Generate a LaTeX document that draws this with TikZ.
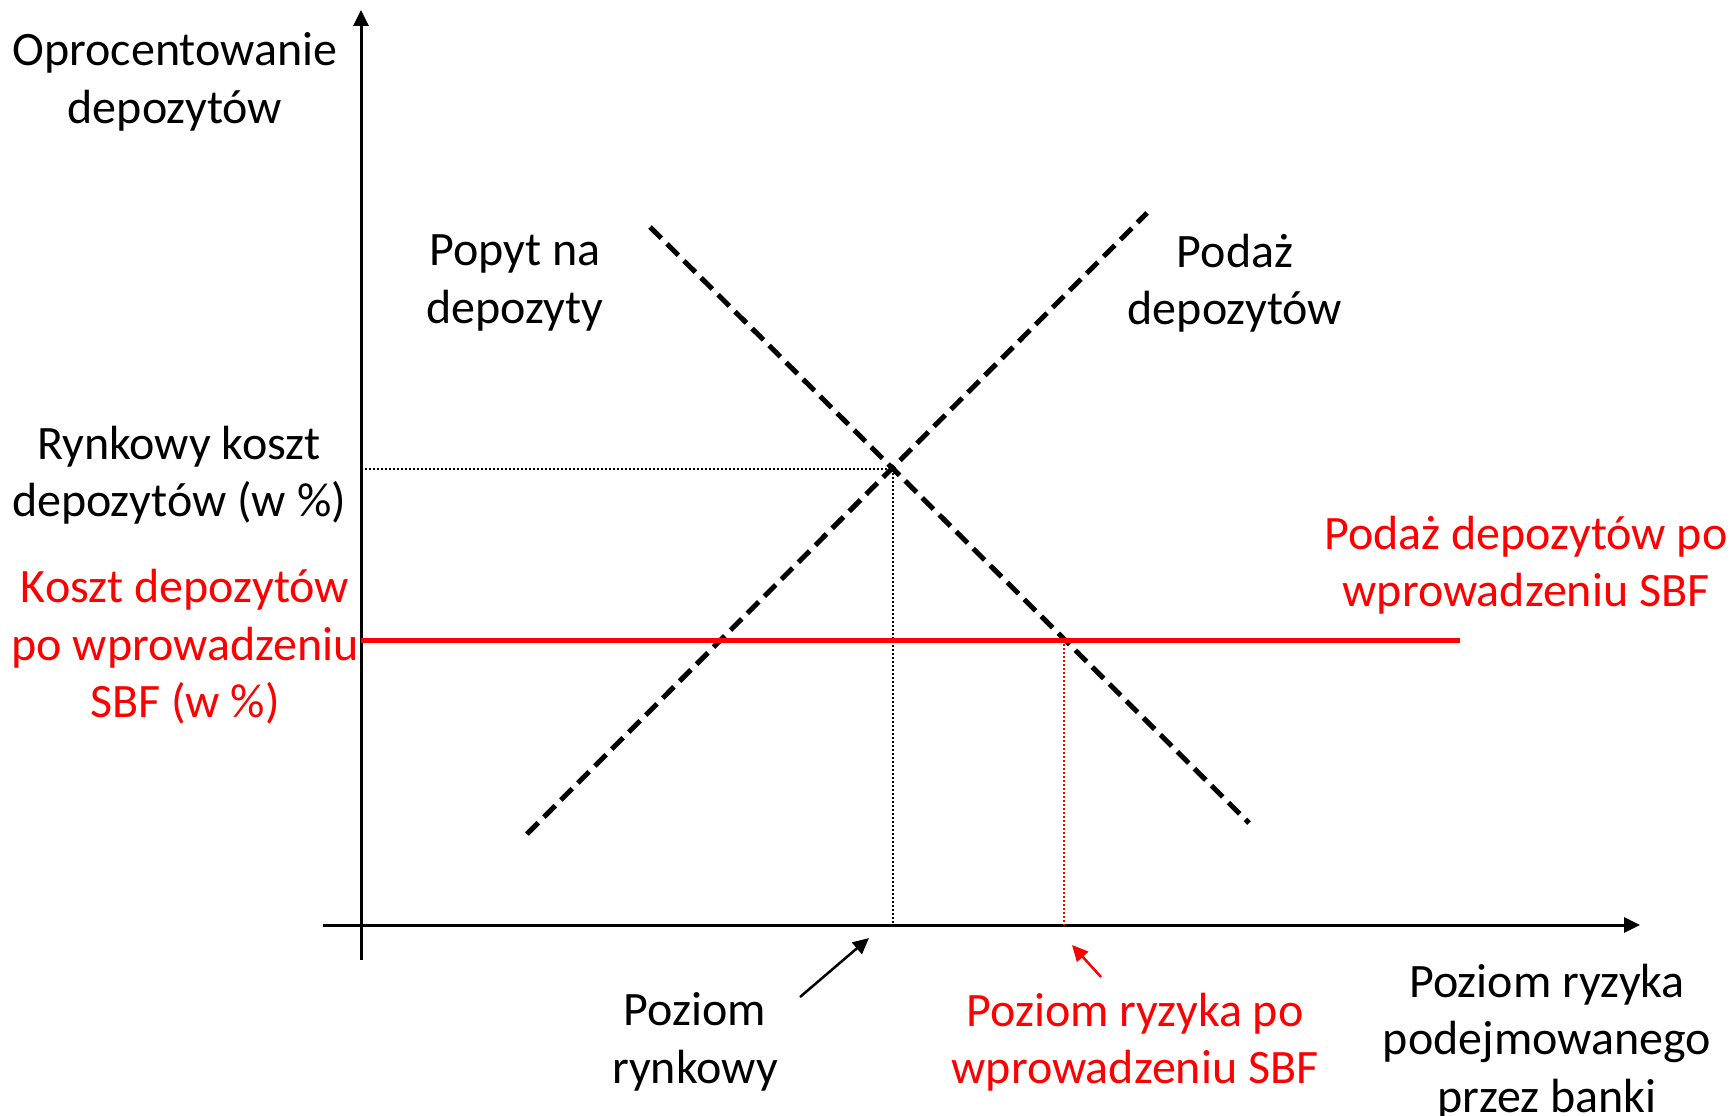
\documentclass[tikz,border=0pt]{standalone}
\usepackage{fontspec}
\setmainfont{Carlito}
\usetikzlibrary{arrows.meta}
\definecolor{myred}{RGB}{255,0,0}
\begin{document}
\begin{tikzpicture}[x=1pt,y=-1pt,
  lbl/.style={align=center,inner sep=0pt,font=\fontsize{48}{57.5}\selectfont},
  rlbl/.style={lbl,text=myred},
  axis/.style={line width=3pt,-{Triangle[length=16pt,width=15pt]}},
  curve/.style={line width=5pt,dash pattern=on 16pt off 8pt},
  guide/.style={line width=1.5pt,dash pattern=on 2pt off 2pt},
  pointer/.style={line width=2.5pt,-{Triangle[length=16pt,width=15pt]}}]
\useasboundingbox (0,0) rectangle (1733,1116);
% axes
\coordinate (yb) at (361,960);
\coordinate (yt) at (361,10);
\coordinate (xl) at (323,925);
\coordinate (xr) at (1640,925);
\draw[axis] (yb) -- (yt);
\draw[axis] (xl) -- (xr);
% curves
\coordinate (s1) at (527,834);
\coordinate (s2) at (1147,213);
\coordinate (d1) at (650,227);
\coordinate (d2) at (1249,823);
\draw[curve] (s1) -- (s2);
\draw[curve] (d1) -- (d2);
% equilibrium
\coordinate (eq) at (893,469);
\coordinate (eqy) at (361,469);
\coordinate (eqx) at (893,925);
\draw[guide] (eqy) -- (eq);
\draw[guide] (eq) -- (eqx);
% red line
\coordinate (rl) at (361,640);
\coordinate (rr) at (1460,640);
\draw[myred,line width=5pt] (rl) -- (rr);
\coordinate (req) at (1064,640);
\coordinate (reqx) at (1064,925);
\draw[guide,myred] (req) -- (reqx);
% labels
\node[lbl] (ylab) at (175,82) {Oprocentowanie\\depozytów};
\node[lbl] (dlab) at (515,283) {Popyt na\\depozyty};
\node[lbl] (slab) at (1235,283) {Podaż\\depozytów};
\node[lbl] (mlab) at (179,475) {Rynkowy koszt\\depozytów (w \%)};
\node[rlbl] (klab) at (185,647) {Koszt depozytów\\po wprowadzeniu\\SBF (w \%)};
\node[rlbl] (plab) at (1526,565) {Podaż depozytów po\\wprowadzeniu SBF};
\node[lbl] (pr) at (695,1042) {Poziom\\rynkowy};
\node[rlbl] (prs) at (1135,1042) {Poziom ryzyka po\\wprowadzeniu SBF};
\node[lbl] (xlab) at (1547,1042) {Poziom ryzyka\\podejmowanego\\przez banki};
% pointers
\coordinate (pa) at (800,997);
\coordinate (pb) at (869,938);
\draw[pointer] (pa) -- (pb);
\coordinate (qa) at (1101,977);
\coordinate (qb) at (1072,945);
\draw[pointer,myred] (qa) -- (qb);
\end{tikzpicture}
\end{document}
